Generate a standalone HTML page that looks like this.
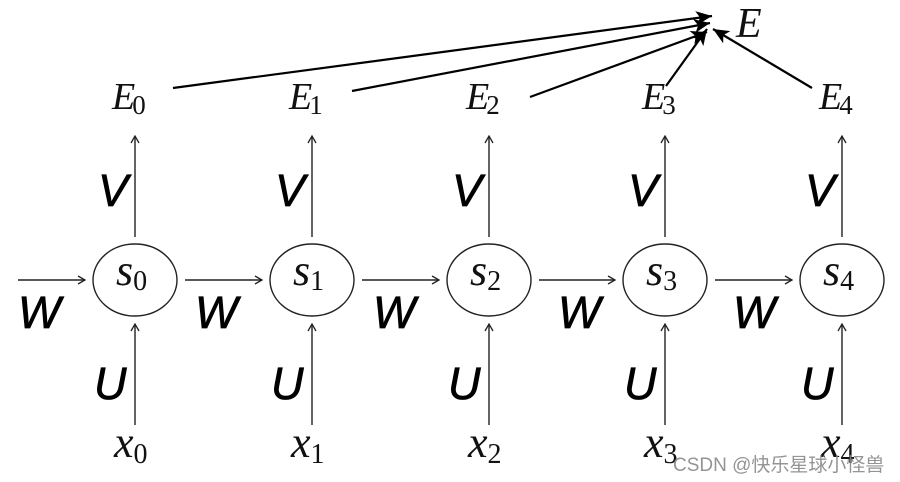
<!DOCTYPE html>
<html><head><meta charset="utf-8"><style>
html,body{margin:0;padding:0;background:#fff;}
svg{display:block}
.m{font-family:"Liberation Serif",serif;font-style:italic;fill:#111}
.sub{font-family:"Liberation Serif",serif;font-style:normal;fill:#111}
.g{font-family:"Liberation Sans",sans-serif;font-style:italic;fill:#000;stroke:#000;stroke-width:0.7}
</style></head><body>
<svg width="900" height="482" viewBox="0 0 900 482" xmlns="http://www.w3.org/2000/svg">
<defs>
<marker id="a" markerWidth="10" markerHeight="10" refX="8" refY="5" orient="auto" markerUnits="userSpaceOnUse">
<path d="M1,1 L8,5 L1,9" fill="none" stroke="#222" stroke-width="1.3"/>
</marker>
<marker id="b" markerWidth="20" markerHeight="16" refX="16" refY="8" orient="auto" markerUnits="userSpaceOnUse">
<path d="M0,1 L16,8 L0,15 L4,8 Z" fill="#000"/>
</marker>
</defs>
<g stroke="#000" stroke-width="2.2" fill="none" marker-end="url(#b)">
<line x1="173" y1="88" x2="712" y2="16"/>
<line x1="352" y1="91" x2="710" y2="23"/>
<line x1="530" y1="97" x2="707" y2="32"/>
<line x1="666" y1="86" x2="707" y2="29"/>
<line x1="812" y1="88" x2="713" y2="29"/>
</g>
<text class="m" x="736" y="37" font-size="42">E</text>
<g stroke="#222" stroke-width="1.4" fill="none">
<ellipse cx="135" cy="280" rx="42" ry="36"/>
<ellipse cx="312" cy="280" rx="42" ry="36"/>
<ellipse cx="489" cy="280" rx="42" ry="36"/>
<ellipse cx="665" cy="280" rx="42" ry="36"/>
<ellipse cx="842" cy="280" rx="42" ry="36"/>
<g marker-end="url(#a)">
<line x1="18" y1="280" x2="85" y2="280"/>
<line x1="185" y1="280" x2="262" y2="280"/>
<line x1="362" y1="280" x2="439" y2="280"/>
<line x1="539" y1="280" x2="615" y2="280"/>
<line x1="715" y1="280" x2="792" y2="280"/>
<line x1="135" y1="237" x2="135" y2="136"/>
<line x1="312" y1="237" x2="312" y2="136"/>
<line x1="489" y1="237" x2="489" y2="136"/>
<line x1="665" y1="237" x2="665" y2="136"/>
<line x1="842" y1="237" x2="842" y2="136"/>
<line x1="135" y1="425" x2="135" y2="324"/>
<line x1="312" y1="425" x2="312" y2="324"/>
<line x1="489" y1="425" x2="489" y2="324"/>
<line x1="665" y1="425" x2="665" y2="324"/>
<line x1="842" y1="425" x2="842" y2="324"/>
</g>
</g>
<g font-size="38">
<text class="m" x="112" y="109">E<tspan class="sub" font-size="27" dx="-3" dy="5">0</tspan></text>
<text class="m" x="289" y="109">E<tspan class="sub" font-size="27" dx="-3" dy="5">1</tspan></text>
<text class="m" x="466" y="109">E<tspan class="sub" font-size="27" dx="-3" dy="5">2</tspan></text>
<text class="m" x="642" y="109">E<tspan class="sub" font-size="27" dx="-3" dy="5">3</tspan></text>
<text class="m" x="819" y="109">E<tspan class="sub" font-size="27" dx="-3" dy="5">4</tspan></text>
</g>
<g font-size="44">
<text class="m" x="116" y="285">s<tspan class="sub" font-size="28" dy="5">0</tspan></text>
<text class="m" x="293" y="285">s<tspan class="sub" font-size="28" dy="5">1</tspan></text>
<text class="m" x="470" y="285">s<tspan class="sub" font-size="28" dy="5">2</tspan></text>
<text class="m" x="646" y="285">s<tspan class="sub" font-size="28" dy="5">3</tspan></text>
<text class="m" x="823" y="285">s<tspan class="sub" font-size="28" dy="5">4</tspan></text>
<text class="m" x="114" y="457">x<tspan class="sub" font-size="28" dy="6">0</tspan></text>
<text class="m" x="291" y="457">x<tspan class="sub" font-size="28" dy="6">1</tspan></text>
<text class="m" x="468" y="457">x<tspan class="sub" font-size="28" dy="6">2</tspan></text>
<text class="m" x="644" y="457">x<tspan class="sub" font-size="28" dy="6">3</tspan></text>
<text class="m" x="821" y="457">x<tspan class="sub" font-size="28" dy="6">4</tspan></text>
</g>
<g class="g" font-size="45">
<text x="98" y="206">V</text><text x="275" y="206">V</text><text x="452" y="206">V</text><text x="628" y="206">V</text><text x="805" y="206">V</text>
<text x="94" y="399">U</text><text x="271" y="399">U</text><text x="448" y="399">U</text><text x="624" y="399">U</text><text x="801" y="399">U</text>
<text x="18" y="328">W</text><text x="195" y="328">W</text><text x="373" y="328">W</text><text x="558" y="328">W</text><text x="733" y="328">W</text>
</g>
<text x="673" y="471" font-family="'Liberation Sans','Noto Sans CJK SC',sans-serif" font-size="19" fill="#888" fill-opacity="0.9">CSDN @快乐星球小怪兽</text>
</svg>
</body></html>
